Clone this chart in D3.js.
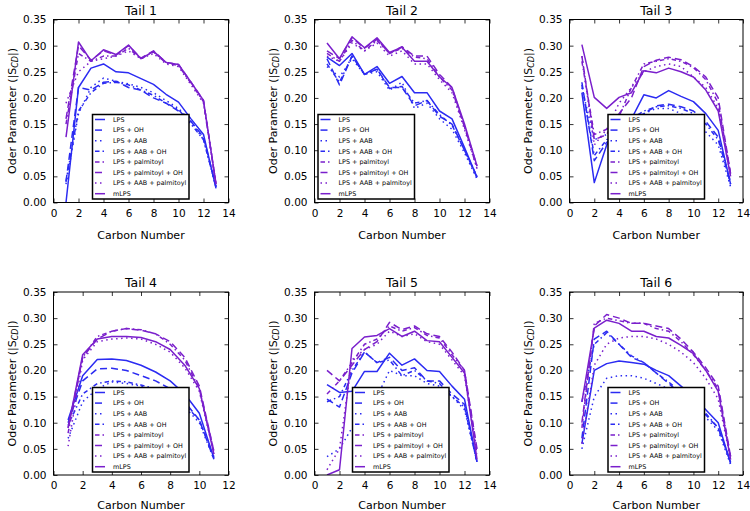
<!DOCTYPE html>
<html>
<head>
<meta charset="utf-8">
<script src="https://cdn.jsdelivr.net/npm/d3@7"></script>
<style>
  html, body { margin: 0; padding: 0; background: #fff; }
  svg { display: block; font-family: "DejaVu Sans", sans-serif; }
</style>
</head>
<body>
<svg id="chart" width="750" height="511"></svg>
<script>
// ---------- data ----------
const seriesNames = ["LPS", "LPS + OH", "LPS + AAB", "LPS + AAB + OH",
  "LPS + palmitoyl", "LPS + palmitoyl + OH", "LPS + AAB + palmitoyl", "mLPS"];
const tailTitles = ["Tail 1", "Tail 2", "Tail 3", "Tail 4", "Tail 5", "Tail 6"];
const carbons13 = [1,2,3,4,5,6,7,8,9,10,11,12,13];
const carbons11 = [1,2,3,4,5,6,7,8,9,10,11];
const yTicks = [0, 0.05, 0.10, 0.15, 0.20, 0.25, 0.30, 0.35];
const xTicks14 = [0,2,4,6,8,10,12,14];
const xTicks12 = [0,2,4,6,8,10,12];

const tail1 = [
  [0.000,0.220,0.257,0.265,0.250,0.248,0.237,0.226,0.207,0.192,0.160,0.130,0.027],
  [0.040,0.220,0.215,0.230,0.232,0.220,0.215,0.200,0.190,0.175,0.155,0.125,0.030],
  [0.035,0.170,0.220,0.238,0.232,0.227,0.220,0.210,0.195,0.180,0.155,0.120,0.030],
  [0.040,0.175,0.210,0.228,0.230,0.225,0.215,0.205,0.190,0.178,0.150,0.120,0.030],
  [0.150,0.285,0.270,0.280,0.280,0.295,0.275,0.288,0.267,0.262,0.228,0.193,0.035],
  [0.160,0.300,0.272,0.290,0.282,0.300,0.276,0.290,0.268,0.264,0.230,0.195,0.035],
  [0.190,0.250,0.270,0.275,0.280,0.290,0.275,0.285,0.265,0.260,0.225,0.190,0.035],
  [0.125,0.307,0.271,0.292,0.283,0.301,0.275,0.289,0.268,0.264,0.230,0.195,0.035]
];
const tail2 = [
  [0.278,0.262,0.285,0.245,0.260,0.228,0.241,0.210,0.210,0.175,0.160,0.105,0.048],
  [0.275,0.225,0.280,0.245,0.255,0.220,0.220,0.185,0.195,0.165,0.150,0.100,0.048],
  [0.260,0.240,0.275,0.245,0.250,0.215,0.230,0.180,0.190,0.160,0.140,0.095,0.045],
  [0.265,0.230,0.280,0.245,0.255,0.218,0.222,0.190,0.195,0.168,0.148,0.100,0.050],
  [0.285,0.270,0.310,0.290,0.310,0.285,0.295,0.278,0.275,0.240,0.215,0.145,0.065],
  [0.290,0.275,0.315,0.295,0.312,0.285,0.298,0.280,0.280,0.245,0.220,0.145,0.070],
  [0.280,0.270,0.305,0.290,0.305,0.280,0.290,0.265,0.265,0.235,0.210,0.140,0.065],
  [0.305,0.275,0.317,0.296,0.315,0.287,0.297,0.270,0.270,0.240,0.220,0.150,0.070]
];
const tail3 = [
  [0.210,0.038,0.110,0.140,0.160,0.206,0.200,0.214,0.203,0.193,0.170,0.138,0.035],
  [0.230,0.080,0.115,0.130,0.160,0.170,0.185,0.188,0.183,0.175,0.155,0.125,0.035],
  [0.220,0.120,0.130,0.140,0.160,0.170,0.180,0.180,0.170,0.155,0.135,0.110,0.030],
  [0.225,0.090,0.120,0.135,0.160,0.175,0.183,0.185,0.180,0.170,0.150,0.120,0.040],
  [0.270,0.130,0.140,0.165,0.220,0.265,0.270,0.275,0.270,0.258,0.235,0.190,0.055],
  [0.280,0.120,0.130,0.170,0.200,0.260,0.272,0.278,0.273,0.260,0.240,0.200,0.055],
  [0.280,0.110,0.140,0.190,0.220,0.250,0.260,0.265,0.260,0.240,0.220,0.180,0.050],
  [0.302,0.201,0.180,0.201,0.210,0.252,0.248,0.257,0.250,0.240,0.215,0.175,0.050]
];
const tail4 = [
  [0.105,0.190,0.221,0.222,0.219,0.210,0.197,0.180,0.155,0.118,0.032],
  [0.100,0.180,0.203,0.204,0.200,0.190,0.180,0.165,0.140,0.105,0.030],
  [0.070,0.140,0.165,0.178,0.175,0.170,0.160,0.150,0.130,0.100,0.030],
  [0.095,0.155,0.175,0.180,0.178,0.172,0.165,0.155,0.135,0.105,0.035],
  [0.080,0.225,0.265,0.275,0.280,0.278,0.270,0.250,0.220,0.165,0.045],
  [0.090,0.225,0.260,0.275,0.280,0.277,0.270,0.255,0.225,0.170,0.045],
  [0.055,0.220,0.255,0.260,0.262,0.260,0.250,0.235,0.205,0.160,0.040],
  [0.090,0.230,0.260,0.265,0.265,0.263,0.255,0.240,0.210,0.165,0.040]
];
const tail5 = [
  [0.173,0.158,0.160,0.198,0.198,0.233,0.210,0.222,0.200,0.198,0.170,0.145,0.025],
  [0.145,0.130,0.195,0.235,0.215,0.225,0.200,0.205,0.180,0.180,0.155,0.135,0.025],
  [0.035,0.050,0.090,0.120,0.150,0.200,0.190,0.190,0.175,0.170,0.150,0.125,0.025],
  [0.140,0.150,0.200,0.235,0.215,0.220,0.190,0.200,0.180,0.175,0.150,0.130,0.025],
  [0.155,0.180,0.215,0.250,0.260,0.285,0.275,0.282,0.267,0.262,0.230,0.200,0.045],
  [0.200,0.180,0.210,0.240,0.255,0.292,0.278,0.285,0.270,0.265,0.235,0.200,0.050],
  [0.010,0.050,0.220,0.240,0.250,0.275,0.265,0.270,0.255,0.250,0.220,0.190,0.040],
  [0.000,0.010,0.242,0.264,0.267,0.280,0.265,0.275,0.257,0.255,0.225,0.195,0.030]
];
const tail6 = [
  [0.060,0.200,0.213,0.218,0.215,0.212,0.200,0.190,0.170,0.150,0.125,0.100,0.022],
  [0.070,0.260,0.275,0.250,0.225,0.215,0.195,0.175,0.155,0.135,0.115,0.090,0.025],
  [0.050,0.150,0.185,0.190,0.190,0.185,0.175,0.165,0.150,0.135,0.110,0.085,0.020],
  [0.140,0.250,0.272,0.250,0.228,0.215,0.195,0.178,0.158,0.138,0.118,0.090,0.025],
  [0.090,0.290,0.300,0.295,0.290,0.290,0.280,0.275,0.255,0.230,0.200,0.165,0.035],
  [0.100,0.285,0.307,0.300,0.290,0.290,0.285,0.280,0.260,0.235,0.205,0.170,0.035],
  [0.060,0.210,0.250,0.262,0.265,0.265,0.260,0.250,0.235,0.215,0.185,0.145,0.030],
  [0.140,0.281,0.296,0.290,0.275,0.275,0.265,0.262,0.248,0.232,0.200,0.160,0.030]
];

// ---------- styles / layout ----------
const BLUE = "#2b2bf2", PURPLE = "#7a1fcc";
const seriesColor = [BLUE, BLUE, BLUE, BLUE, PURPLE, PURPLE, PURPLE, PURPLE];
const seriesDash = [null, "7,4", "1.5,3.5", "4.5,3,1.5,3", "4.5,3,1.5,3", "7,4", "1.5,3.5", null];

const panels = [
  {data: tail1, xs: carbons13, xmax: 14, xt: xTicks14, left: 53.5, top: 19.5, w: 175, lx: 92.5, ly: 114.5, xlab: 36},
  {data: tail2, xs: carbons13, xmax: 14, xt: xTicks14, left: 314.5, top: 19.5, w: 175, lx: 318, ly: 114.5, xlab: 36},
  {data: tail3, xs: carbons13, xmax: 14, xt: xTicks14, left: 569.5, top: 19.5, w: 173.5, lx: 608, ly: 114.5, xlab: 36},
  {data: tail4, xs: carbons11, xmax: 12, xt: xTicks12, left: 53.5, top: 292, w: 175, lx: 92.5, ly: 387.5, xlab: 33.5},
  {data: tail5, xs: carbons13, xmax: 14, xt: xTicks14, left: 314.5, top: 292, w: 175, lx: 352.5, ly: 387.5, xlab: 33.5},
  {data: tail6, xs: carbons13, xmax: 14, xt: xTicks14, left: 569.5, top: 292, w: 173.5, lx: 608, ly: 387.5, xlab: 33.5}
];
const PH = 183;

const svg = d3.select("#chart");

panels.forEach((p, pi) => {
  const PW = p.w;
  const g = svg.append("g").attr("transform", `translate(${p.left},${p.top})`);
  const x = d3.scaleLinear().domain([0, p.xmax]).range([0, PW]);
  const y = d3.scaleLinear().domain([0, 0.35]).range([PH, 0]);

  const clipId = "clip" + pi;
  g.append("clipPath").attr("id", clipId).append("rect").attr("width", PW).attr("height", PH);

  const line = d3.line().x((d, i) => x(p.xs[i])).y(d => y(d));
  const lg = g.append("g").attr("clip-path", `url(#${clipId})`);
  p.data.forEach((vals, si) => {
    lg.append("path")
      .attr("d", line(vals))
      .attr("fill", "none")
      .attr("stroke", seriesColor[si])
      .attr("stroke-width", 1.5)
      .attr("stroke-dasharray", seriesDash[si])
      .attr("stroke-linejoin", "round");
  });

  const ax = g.append("g");
  const bottom = d3.axisBottom(x).tickValues(p.xt).tickFormat(d3.format("d")).tickSizeInner(-4).tickSizeOuter(0).tickPadding(7);
  const left = d3.axisLeft(y).tickValues(yTicks).tickFormat(d3.format(".2f")).tickSizeInner(-4).tickSizeOuter(0).tickPadding(7);
  const top = d3.axisTop(x).tickValues(p.xt).tickFormat("").tickSizeInner(-4).tickSizeOuter(0);
  const right = d3.axisRight(y).tickValues(yTicks).tickFormat("").tickSizeInner(-4).tickSizeOuter(0);

  [[bottom, `translate(0,${PH})`], [left, null], [top, null], [right, `translate(${PW},0)`]].forEach(([a, t]) => {
    const gg = ax.append("g").call(a);
    if (t) gg.attr("transform", t);
    gg.select(".domain").remove();
    gg.selectAll("text").attr("font-family", "DejaVu Sans").attr("font-size", 10.5).attr("fill", "#000");
    gg.selectAll("line").attr("stroke", "#000").attr("stroke-width", 0.8);
  });

  g.append("rect").attr("width", PW).attr("height", PH)
    .attr("fill", "none").attr("stroke", "#000").attr("stroke-width", 1);

  g.append("text").attr("x", PW / 2).attr("y", -5).attr("text-anchor", "middle")
    .attr("font-size", 12.5).text(tailTitles[pi]);

  g.append("text").attr("x", PW / 2).attr("y", PH + p.xlab).attr("text-anchor", "middle")
    .attr("font-size", 11).text("Carbon Number");

  const yl = g.append("text").attr("transform", `translate(-38,${PH / 2}) rotate(-90)`)
    .attr("text-anchor", "middle").attr("font-size", 11);
  yl.append("tspan").text("Oder Parameter (|S");
  yl.append("tspan").attr("font-size", 8).attr("font-style", "italic").attr("dy", 2.5).text("CD");
  yl.append("tspan").attr("dy", -2.5).text("|)");

  const lgd = svg.append("g").attr("transform", `translate(${p.lx},${p.ly})`);
  lgd.append("rect").attr("width", 96.5).attr("height", 84.5)
    .attr("fill", "#fff").attr("stroke", "#000").attr("stroke-width", 1.5);
  seriesNames.forEach((name, si) => {
    const cy = 5 + si * 10.6;
    lgd.append("line").attr("x1", 2.5).attr("x2", 12.5).attr("y1", cy).attr("y2", cy)
      .attr("stroke", seriesColor[si]).attr("stroke-width", 1.5)
      .attr("stroke-dasharray", seriesDash[si]);
    lgd.append("text").attr("x", 20.5).attr("y", cy + 2.3).attr("font-size", 6.4).text(name);
  });
});
</script>
</body>
</html>
